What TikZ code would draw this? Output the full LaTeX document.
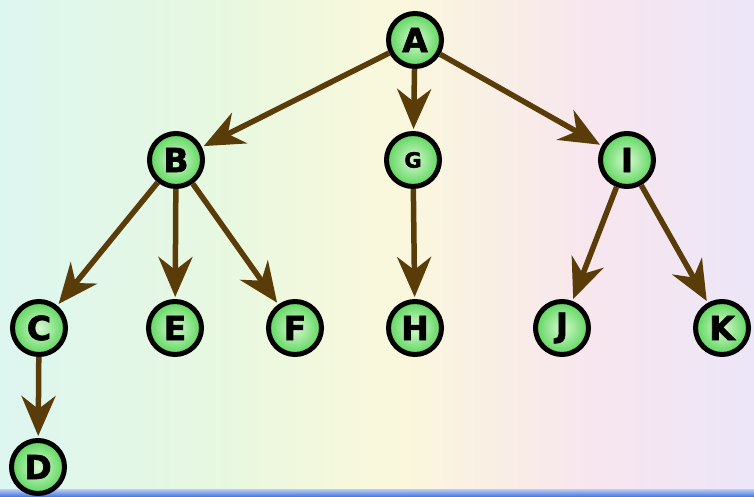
\documentclass[tikz,border=0pt]{standalone}
\usepackage{fontspec}
\usetikzlibrary{arrows.meta}
\newfontfamily\nodefont{DejaVu Sans}[BoldFeatures={FakeBold=2}]

\definecolor{bgleft}{HTML}{DDF6F0}
\definecolor{bggreen}{HTML}{E8F8E0}
\definecolor{bgmid}{HTML}{FAF8DC}
\definecolor{bgpink}{HTML}{F8E6EE}
\definecolor{bgright}{HTML}{ECE6F8}
\definecolor{barblue}{HTML}{3F72E0}
\definecolor{edgebrown}{HTML}{5A3C08}
\definecolor{ballin}{HTML}{D8F8D2}
\definecolor{ballout}{HTML}{5CD65C}

% only 25bp..75bp of the shading is visible
\pgfdeclarehorizontalshading{bgshade}{100bp}{color(0bp)=(bgleft); color(25bp)=(bgleft);
  color(40bp)=(bggreen); color(51bp)=(bgmid); color(64bp)=(bgpink);
  color(75bp)=(bgright); color(100bp)=(bgright)}

\tikzstyle{treenode}=[circle,draw=black,line width=5pt,minimum size=53pt,inner sep=0pt,
  shading=radial,inner color=ballin,outer color=ballout,
  font=\nodefont\bfseries\fontsize{33}{33}\selectfont]
\tikzstyle{edge}=[line width=5.5pt,draw=edgebrown,shorten >=2pt,
  -{Stealth[length=40pt,width=34pt,inset=13pt]}]

\begin{document}
\begin{tikzpicture}[x=1pt,y=-1pt]
\useasboundingbox (0,0) rectangle (754,497);
\shade [shading=bgshade, shading angle=0] (0,0) rectangle (754,490);
\shade [top color=barblue!35, bottom color=barblue] (0,489) rectangle (754,497);

% levels
\node[treenode] (A) at (415,40) {A};

\node[treenode] (B) at (176,160) {B};
\node[treenode,font=\nodefont\bfseries\fontsize{21}{21}\selectfont] (G) at (413,160) {G};
\node[treenode] (I) at (627,160) {I};

\node[treenode] (C) at (39,328) {C};
\node[treenode] (E) at (175,328) {E};
\node[treenode] (F) at (295,328) {F};
\node[treenode] (H) at (415,328) {H};
\node[treenode] (J) at (562,328) {J};
\node[treenode] (K) at (722,328) {K};

\node[treenode] (D) at (38,467) {D};

\draw[edge] (A) -- (B);
\draw[edge] (A) -- (G);
\draw[edge] (A) -- (I);
\draw[edge] (B) -- (C);
\draw[edge] (B) -- (E);
\draw[edge] (B) -- (F);
\draw[edge] (G) -- (H);
\draw[edge] (I) -- (J);
\draw[edge] (I) -- (K);
\draw[edge] (C) -- (D);
\end{tikzpicture}
\end{document}
